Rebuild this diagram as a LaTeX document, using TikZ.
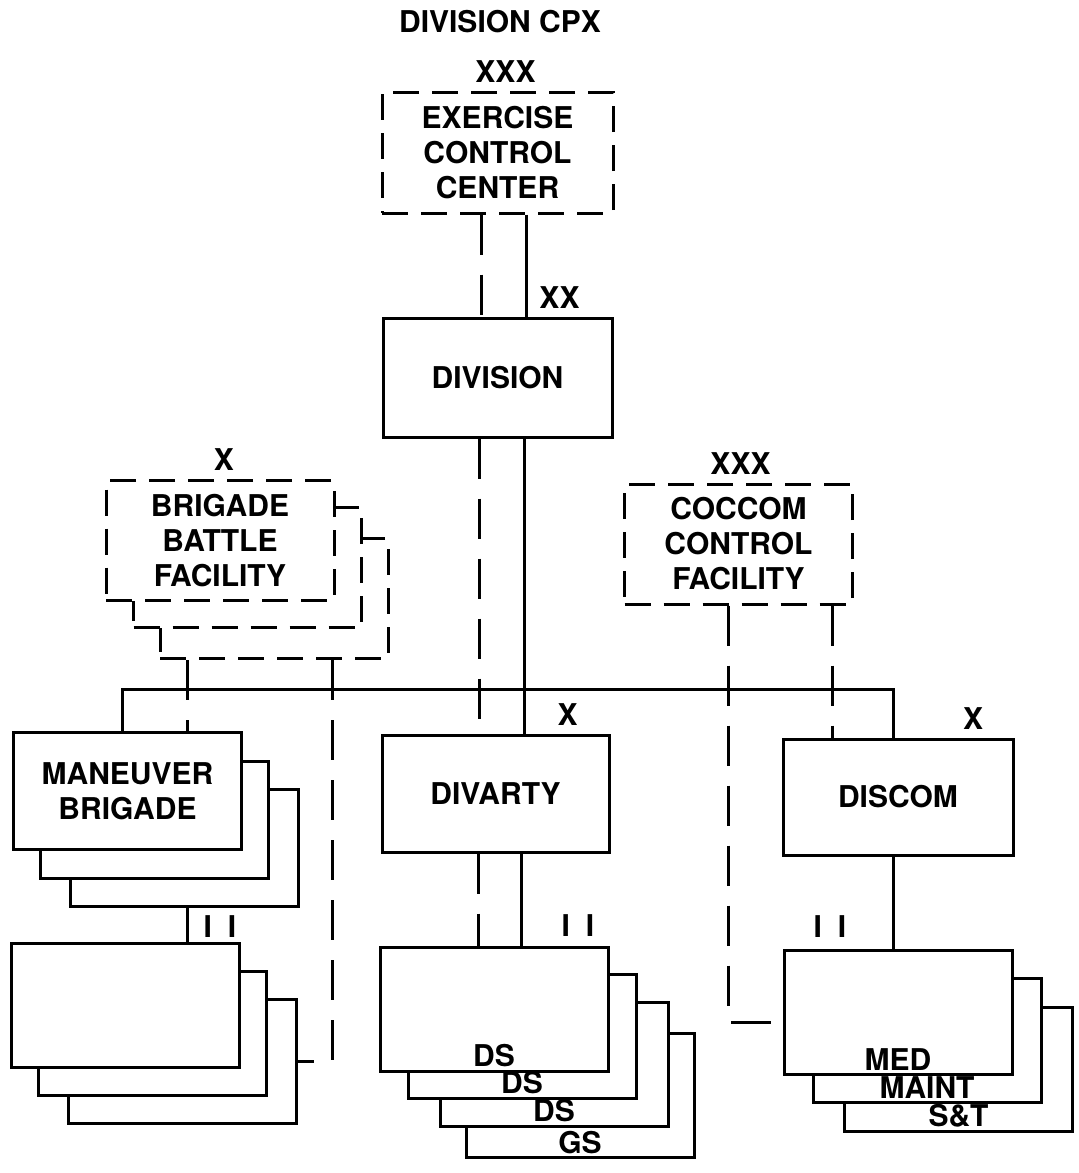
\documentclass[tikz,border=0pt]{standalone}
\usepackage{fontspec}
\setmainfont{TeX Gyre Heros}
\usetikzlibrary{positioning}
\begin{document}
\begin{tikzpicture}[x=0.5pt,y=-0.5pt,
  every node/.style={font=\bfseries\fontsize{15}{17.5}\selectfont},
  unitbox/.style={draw,fill=white,line width=1.5pt,minimum width=114pt,minimum height=60pt,align=center,inner sep=0pt},
  ctrlbox/.style={unitbox,dash pattern=on 13pt off 6.5pt},
  cmd/.style={line width=1.5pt},
  ctrl/.style={line width=1.5pt,dash pattern=on 20pt off 10pt},
  echelon/.style={inner sep=0pt,anchor=south},
  sublbl/.style={inner sep=2.5pt,anchor=south}]
\useasboundingbox (0,0) rectangle (1078,1173);
\node (title) at (500,22) {DIVISION CPX};
% exercise control and division
\node[ctrlbox,minimum width=115.5pt,minimum height=60.5pt] (ecc) at (497.5,152.5) {EXERCISE\\CONTROL\\CENTER};
\node[echelon] at ([xshift=4pt,yshift=4pt]ecc.north) {XXX};
\node[unitbox,minimum width=114.5pt,minimum height=59.5pt] (div) at (497.5,377.5) {DIVISION};
\node[echelon] at ([xshift=31pt,yshift=4pt]div.north) {XX};
% brigade battle facility
\node[ctrlbox] (bbf3) at (274,598.5) {};
\node[ctrlbox] (bbf2) at (247.5,567.5) {};
\node[ctrlbox] (bbf1) at (220,540.5) {BRIGADE\\BATTLE\\FACILITY};
\node[echelon] at ([xshift=2pt,yshift=4pt]bbf1.north) {X};
% coccom
\node[ctrlbox] (coc) at (738.5,544) {COCCOM\\CONTROL\\FACILITY};
\node[echelon] at ([xshift=1pt,yshift=4pt]coc.north) {XXX};
% maneuver brigades
\node[unitbox,minimum height=58.5pt] (mbde3) at (184.5,847.5) {};
\node[unitbox,minimum height=58.5pt] (mbde2) at (154,819.5) {};
\node[unitbox,minimum height=58.5pt] (mbde1) at (127.5,791) {MANEUVER\\BRIGADE};
\node[unitbox,minimum height=62pt] (mbn3) at (182.5,1061.5) {};
\node[unitbox,minimum height=62pt] (mbn2) at (152,1033) {};
\node[unitbox,minimum height=62pt] (mbn1) at (125.5,1005) {};
\node (mbnii) at (220,927) {I\hspace{8pt}I};
% divarty
\node[unitbox,minimum width=113.5pt,minimum height=58.5pt] (dvty) at (495.5,793.5) {DIVARTY};
\node[echelon] at ([xshift=36pt,yshift=4pt]dvty.north) {X};
\node[unitbox,minimum height=62pt] (ds4) at (580,1095.5) {};
\node[sublbl] at (ds4.south) {GS};
\node[unitbox,minimum height=62pt] (ds3) at (554,1064) {};
\node[sublbl] at (ds3.south) {DS};
\node[unitbox,minimum height=62pt] (ds2) at (522,1036) {};
\node[sublbl] at (ds2.south) {DS};
\node[unitbox,minimum height=62pt] (ds1) at (494,1009) {};
\node[sublbl] at (ds1.south) {DS};
\node (dsii) at (578,926) {I\hspace{8pt}I};
% discom
\node[unitbox,minimum width=115pt,minimum height=58pt] (dscm) at (898,797) {DISCOM};
\node[echelon] at ([xshift=37.5pt,yshift=4pt]dscm.north) {X};
\node[unitbox,minimum height=62pt] (st) at (958.5,1069.5) {};
\node[sublbl] at (st.south) {S\&T};
\node[unitbox,minimum height=62pt] (maint) at (927,1040) {};
\node[sublbl] at (maint.south) {MAINT};
\node[unitbox,minimum height=62pt] (med) at (898,1012.5) {};
\node[sublbl] at (med.south) {MED};
\node (medii) at (830,927) {I\hspace{8pt}I};
% command and control lines
\coordinate (bus) at (524,689);
\draw[ctrl] (ecc.south -| 481,0) -- (div.north -| 481,0);
\draw[cmd] (ecc.south -| 526,0) -- (div.north -| 526,0);
\draw[ctrl] (div.south -| 479,0) -- (dvty.north -| 479,0);
\draw[cmd] (div.south -| bus) -- (dvty.north -| bus);
\draw[cmd] (mbde1.north -| 122,0) |- (bus) -| (dscm.north -| 893,0);
\draw[ctrl] (bbf3.south -| 187,0) -- (mbde1.north -| 187,0);
\draw[ctrl] (bbf3.south -| 332,0) |- (mbn3.east);
\draw[ctrl] (coc.south -| 832,0) -- (dscm.north -| 832,0);
\draw[ctrl] (coc.south -| 728,0) |- ([yshift=-5pt]med.west);
\draw[cmd] (mbde3.south -| 187,0) -- (mbn1.north -| 187,0);
\draw[ctrl] (dvty.south -| 478,0) -- (ds1.north -| 478,0);
\draw[cmd] (dvty.south -| 521,0) -- (ds1.north -| 521,0);
\draw[cmd] (dscm.south -| 893,0) -- (med.north -| 893,0);
\end{tikzpicture}
\end{document}
